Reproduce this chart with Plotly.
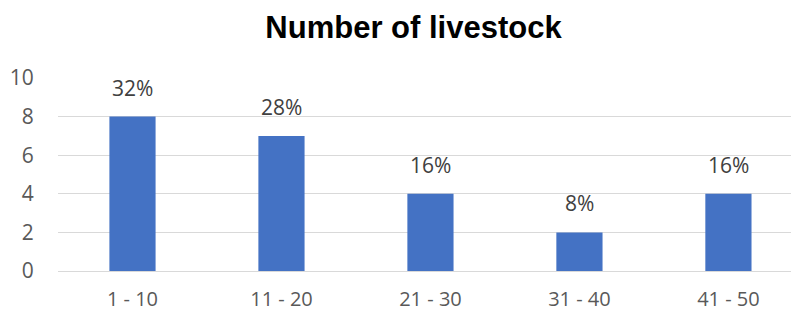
import plotly.graph_objects as go

categories = ["1 - 10", "11 - 20", "21 - 30", "31 - 40", "41 - 50"]
counts = [8, 7, 4, 2, 4]
pct_labels = ["32%", "28%", "16%", "8%", "16%"]
y_ticks = [0, 2, 4, 6, 8, 10]

fig = go.Figure()
fig.add_trace(go.Bar(
    x=categories, y=counts, marker=dict(color="#4472C4", line=dict(width=0)),
    width=0.31, hoverinfo="skip",
))

for c, v, t in zip(categories, counts, pct_labels):
    fig.add_annotation(x=c, y=v, text=t, showarrow=False, yanchor="bottom",
                       yshift=13, font=dict(family="Open Sans", size=21, color="#404040"))

fig.update_layout(
    width=791, height=311,
    margin=dict(l=58, r=0, t=78, b=39.5),
    paper_bgcolor="white", plot_bgcolor="white",
    title=dict(text="<b>Number of livestock</b>", x=413.5 / 791, xanchor="center",
               y=1 - 27 / 311, yanchor="middle",
               font=dict(family="Liberation Sans, Arial", size=31, color="black")),
    showlegend=False,
    xaxis=dict(range=[-0.5, 4.42], showgrid=False, showline=False, zeroline=False,
               automargin=False,
               ticks="outside", ticklen=10, tickcolor="rgba(0,0,0,0)",
               tickfont=dict(family="Open Sans", size=20, color="#595959")),
    yaxis=dict(range=[0, 10], tickvals=y_ticks, showgrid=True, gridcolor="#d9d9d9",
               gridwidth=1.3, zeroline=True, zerolinecolor="#d9d9d9", zerolinewidth=1.3,
               automargin=False,
               showline=False, ticks="outside", ticklen=19, tickcolor="rgba(0,0,0,0)",
               tickfont=dict(family="Open Sans", size=21, color="#595959")),
)

fig.write_html("out.html", config={"displayModeBar": False},
               post_script="document.body.style.margin='0';")
